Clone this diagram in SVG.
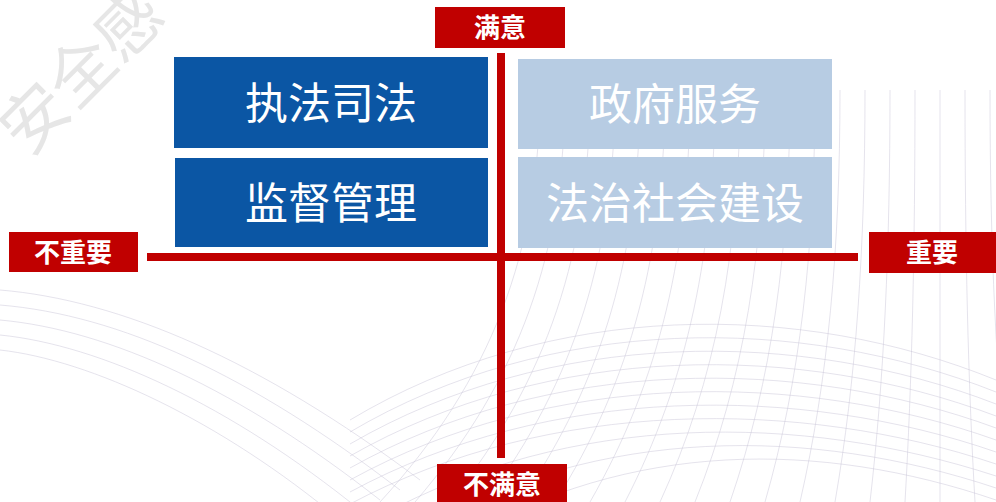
<svg xmlns="http://www.w3.org/2000/svg" width="996" height="502" viewBox="0 0 996 502">
<style>
.bg{fill:none;stroke:#c8c4d6;stroke-width:0.8;opacity:0.6}
.dark{fill:#0B56A4}
.light{fill:#B7CCE3}
.red{fill:#C00000}
.bt{font-family:"Noto Sans CJK SC","Noto Sans",sans-serif;font-size:43px;fill:#ffffff;text-anchor:middle}
.lt{font-family:"Noto Sans CJK SC","Noto Sans",sans-serif;font-size:26px;font-weight:bold;fill:#ffffff;text-anchor:middle}
.wm{font-family:"Noto Sans CJK SC",sans-serif;font-size:66px;font-weight:400;fill:#e6e6e6}
</style>
<rect width="996" height="502" fill="#ffffff"/>
<g id="background">
<path class="bg" d="M540,90 C540,250 492,380 380,502"/>
<path class="bg" d="M565,90 C565,250 520,380 415,502"/>
<path class="bg" d="M590,90 C590,250 548,380 450,502"/>
<path class="bg" d="M615,90 C615,250 576,380 485,502"/>
<path class="bg" d="M640,90 C640,250 604,380 520,502"/>
<path class="bg" d="M665,90 C665,250 632,380 555,502"/>
<path class="bg" d="M690,90 C690,250 660,380 590,502"/>
<path class="bg" d="M715,90 C715,250 688,380 625,502"/>
<path class="bg" d="M740,90 C740,250 716,380 660,502"/>
<path class="bg" d="M765,90 C765,250 744,380 695,502"/>
<path class="bg" d="M790,90 C790,250 772,380 730,502"/>
<path class="bg" d="M815,90 C815,250 800,380 765,502"/>
<path class="bg" d="M840,90 C840,250 828,380 800,502"/>
<path class="bg" d="M865,90 C865,250 856,380 835,502"/>
<path class="bg" d="M890,90 C890,250 884,380 870,502"/>
<path class="bg" d="M915,90 C915,250 912,380 905,502"/>
<path class="bg" d="M940,90 C940,250 940,380 940,502"/>
<path class="bg" d="M965,90 C965,250 968,380 975,502"/>
<path class="bg" d="M990,90 C990,250 996,380 1010,502"/>
<path class="bg" d="M350,420 C550,300 800,300 996,380"/>
<path class="bg" d="M350,432 C550,314 800,314 996,392"/>
<path class="bg" d="M350,444 C550,328 800,328 996,404"/>
<path class="bg" d="M350,456 C550,342 800,342 996,416"/>
<path class="bg" d="M350,468 C550,356 800,356 996,428"/>
<path class="bg" d="M350,480 C550,370 800,370 996,440"/>
<path class="bg" d="M350,492 C550,384 800,384 996,452"/>
<path class="bg" d="M350,504 C550,398 800,398 996,464"/>
<path class="bg" d="M380,516 C570,412 800,412 996,476"/>
<path class="bg" d="M420,528 C600,426 810,426 996,488"/>
<path class="bg" d="M460,540 C630,440 820,440 996,500"/>
<path class="bg" d="M0,290 C120,300 260,360 420,480"/>
<path class="bg" d="M0,305 C120,315 250,375 400,490"/>
<path class="bg" d="M0,320 C110,330 240,390 380,500"/>
<path class="bg" d="M0,335 C100,345 230,405 360,510"/>
<path class="bg" d="M0,350 C90,360 220,420 340,520"/>
</g>
<g id="watermark">
<text class="wm" transform="translate(28,158) rotate(-45)">安全感</text>
</g>
<g id="node-zhifa">
<rect class="dark" x="174" y="57" width="314" height="91"/>
<text class="bt" x="331" y="119">执法司法</text>
</g>
<g id="node-jiandu">
<rect class="dark" x="175" y="158" width="313" height="89"/>
<text class="bt" x="331" y="219">监督管理</text>
</g>
<g id="node-zhengfu">
<rect class="light" x="518" y="59" width="314" height="90"/>
<text class="bt" x="675" y="120">政府服务</text>
</g>
<g id="node-fazhi">
<rect class="light" x="518" y="157" width="314" height="91"/>
<text class="bt" x="675" y="219">法治社会建设</text>
</g>
<g id="connectors">
<rect class="red" x="497" y="53" width="8" height="405"/>
<rect class="red" x="147" y="253" width="711" height="8"/>
</g>
<g id="label-manyi">
<rect class="red" x="435" y="7" width="130" height="41"/>
<text class="lt" x="500" y="37">满意</text>
</g>
<g id="label-bumanyi">
<rect class="red" x="437" y="464" width="130" height="41"/>
<text class="lt" x="502" y="494">不满意</text>
</g>
<g id="label-buzhongyao">
<rect class="red" x="9" y="232" width="129" height="40"/>
<text class="lt" x="73" y="262">不重要</text>
</g>
<g id="label-zhongyao">
<rect class="red" x="869" y="232" width="127" height="41"/>
<text class="lt" x="932" y="262">重要</text>
</g>
</svg>
